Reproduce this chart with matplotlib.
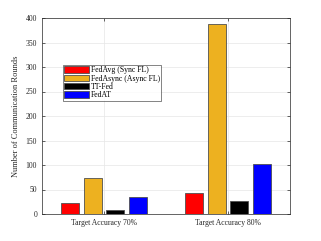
import numpy as np
import matplotlib.pyplot as plt

plt.rcParams['font.family'] = ['Liberation Serif', 'DejaVu Serif']

categories = ['Target Accuracy 70%', 'Target Accuracy 80%']
methods = ['FedAvg (Sync FL)', 'FedAsync (Async FL)', 'TT-Fed', 'FedAT']
values = {
    'FedAvg (Sync FL)': [22, 43],
    'FedAsync (Async FL)': [73, 388],
    'TT-Fed': [9, 27],
    'FedAT': [34, 102],
}
colors = ['#ff0000', '#edb120', '#000000', '#0000ff']

fig = plt.figure(figsize=(3.21, 2.41), dpi=100)
ax = fig.add_axes([42 / 321, 27 / 241, 248 / 321, 196 / 241])

x = np.arange(1, len(categories) + 1)
w = 0.145
step = 0.185
for i, (m, c) in enumerate(zip(methods, colors)):
    ax.bar(x + (i - 1.5) * step, values[m], width=w, color=c,
           edgecolor='#505050', linewidth=0.6, label=m, zorder=3)

ax.set_xlim(0.5, 2.5)
ax.set_ylim(0, 400)
ax.set_xticks(x)
ax.set_xticklabels(categories)
ax.set_yticks(range(0, 401, 50))
ax.set_ylabel('Number of Communication Rounds', fontsize=6, color='#262626')
ax.yaxis.set_label_coords(-0.09, 0.5)
ax.tick_params(labelsize=5.5, direction='in', length=2, width=0.5,
               top=True, right=True, colors='#262626')
ax.grid(True, color='#e6e6e6', linewidth=0.5, zorder=0)
for s in ax.spines.values():
    s.set_linewidth(0.5)
    s.set_color('#262626')

leg = ax.legend(loc='upper left', bbox_to_anchor=(21 / 248, 1 - 47 / 196),
                fontsize=5.6, frameon=True, fancybox=False, borderpad=0.15,
                labelspacing=0.05, handlelength=3.2, handleheight=0.9,
                handletextpad=0.25, borderaxespad=0)
leg.get_frame().set_edgecolor('#262626')
leg.get_frame().set_linewidth(0.5)

fig.savefig('out.png', dpi=100)
